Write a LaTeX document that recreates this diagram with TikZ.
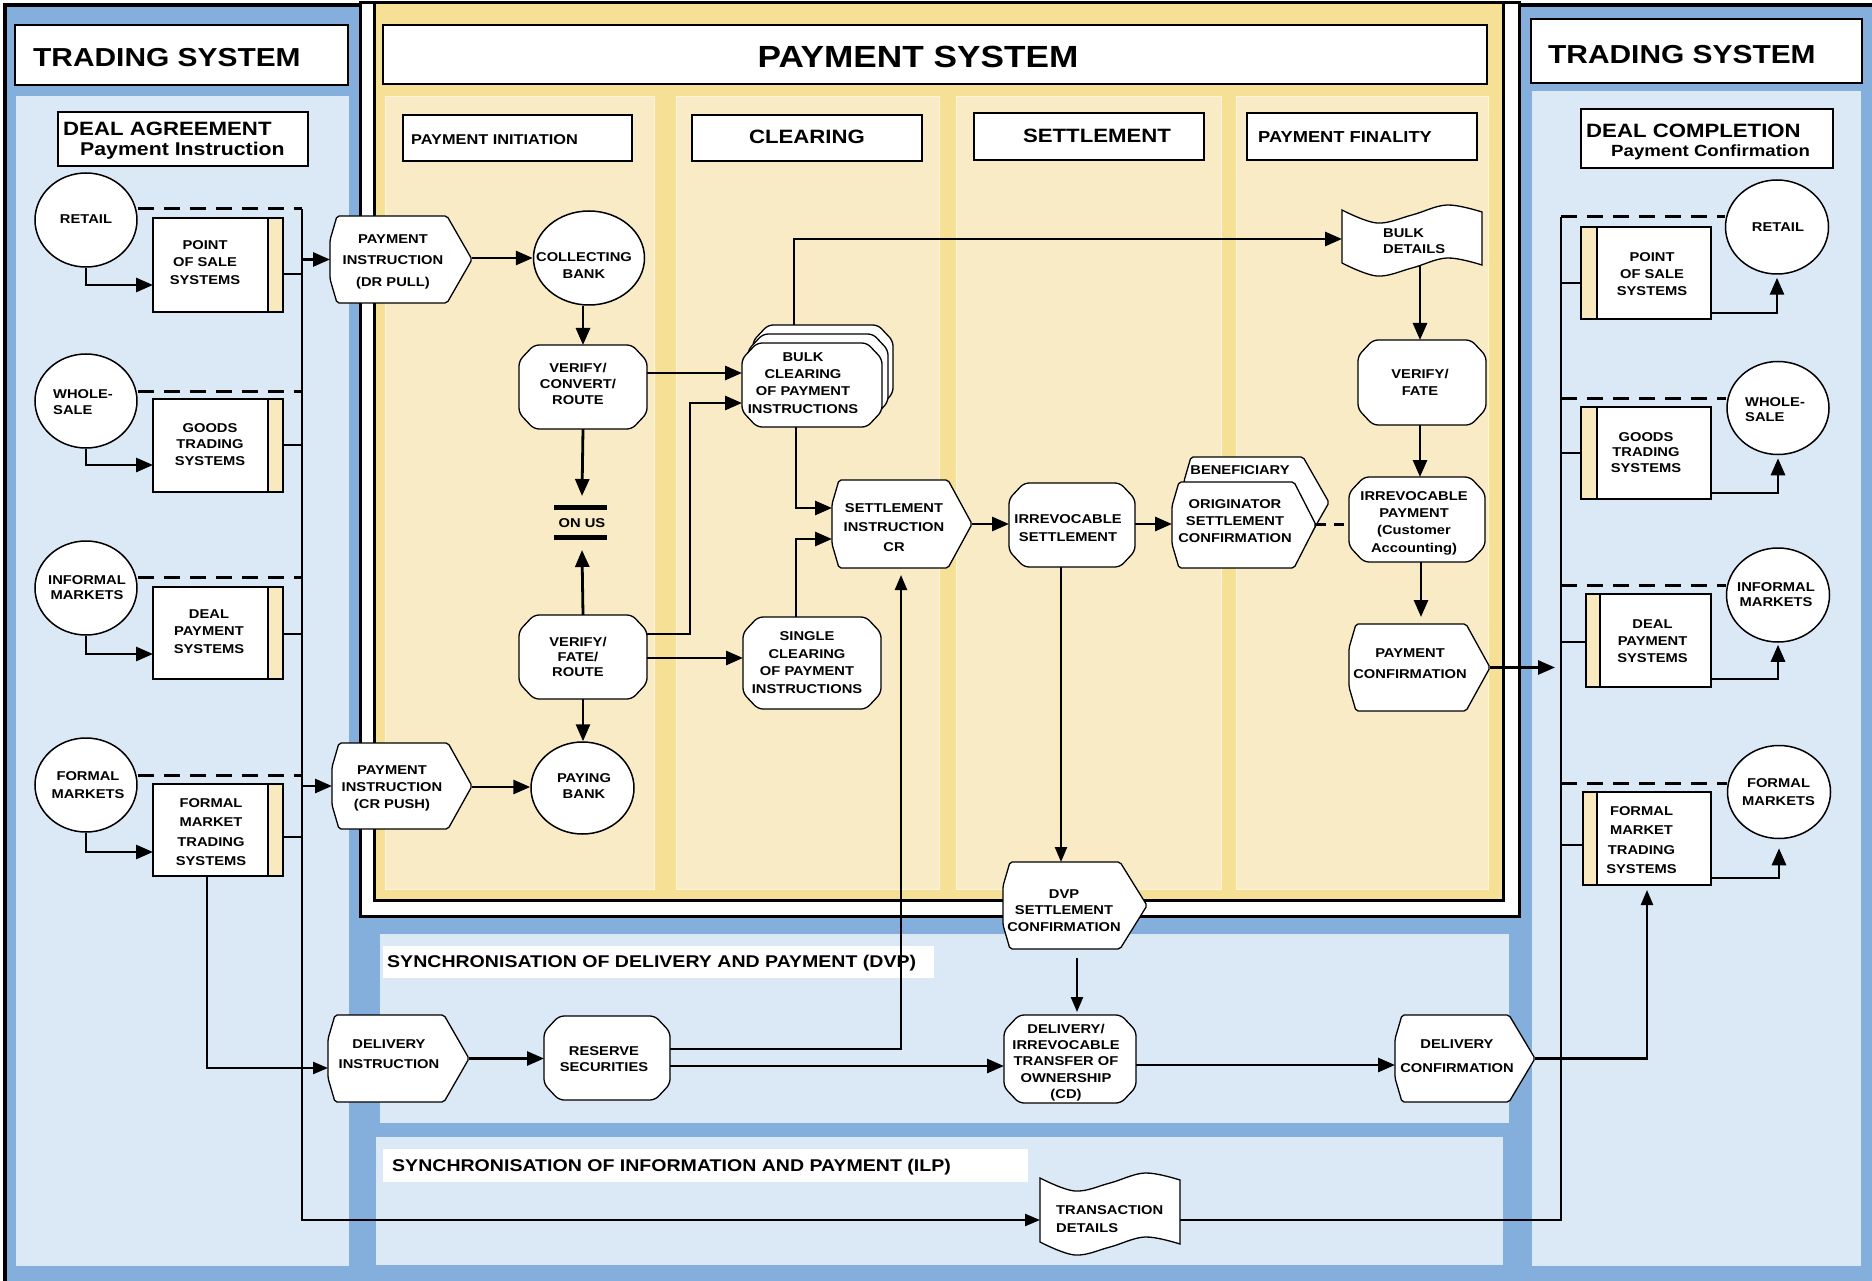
\documentclass[tikz,border=0pt]{standalone}
\usepackage{fontspec}
\usetikzlibrary{arrows.meta,shapes.geometric}
\newfontfamily\nf[FakeStretch=1.15]{Liberation Sans}
\newcommand\fz[2]{\nf\bfseries\fontsize{#1}{#2}\selectfont}
\definecolor{frameblue}{RGB}{132,175,220}
\definecolor{paleblue}{RGB}{219,232,246}
\definecolor{frameyel}{RGB}{245,224,150}
\definecolor{laneyel}{RGB}{249,235,197}
\definecolor{laneedge}{RGB}{253,244,220}
\definecolor{stripe}{RGB}{248,233,190}
\pgfdeclarelayer{bg}\pgfdeclarelayer{conn}\pgfsetlayers{bg,conn,main}

% chamfered box with rounded corners: name, x1, y1, x2, y2
\newcommand\mkoct[5]{%
  \filldraw[shp, rounded corners=5pt] ({#2+15},#3) -- ({#4-15},#3) -- (#4,{#3+16}) -- (#4,{#5-16}) -- ({#4-15},#5) -- ({#2+15},#5) -- (#2,{#5-16}) -- (#2,{#3+16}) -- cycle;
  \node[hold, minimum width={#4-#2}, minimum height={#5-#3}] (#1) at ({(#2+#4)/2},{(#3+#5)/2}) {};}
% display shape pointing right: name, x1, y1, x2 (tip), y2, tip depth
\newcommand\mkhex[6]{%
  \filldraw[shp, rounded corners=2pt] ({#2+7},#3) -- ({#4-#6},#3) -- (#4,{(#3+#5)/2}) -- ({#4-#6},#5) -- ({#2+7},#5) -- (#2,{#5-24}) -- (#2,{#3+24}) -- cycle;
  \node[hold, minimum width={#4-#2}, minimum height={#5-#3}] (#1) at ({(#2+#4)/2},{(#3+#5)/2}) {};}
% wavy document: name, x1, x2, top-left y, height
\newcommand\mkwave[5]{%
  \filldraw[shp] plot[smooth, tension=0.6] coordinates {(#2,#4) ({#2+0.25*(#3-#2)},{#4+13}) ({#2+0.5*(#3-#2)},{#4+5}) ({#2+0.75*(#3-#2)},{#4-5}) (#3,{#4+2})}
    -- plot[smooth, tension=0.6] coordinates {(#3,{#4+2+#5}) ({#2+0.75*(#3-#2)},{#4-5+#5}) ({#2+0.5*(#3-#2)},{#4+5+#5}) ({#2+0.25*(#3-#2)},{#4+13+#5}) (#2,{#4+#5})} -- cycle;
  \node[hold, minimum width={#3-#2}, minimum height={#5}] (#1) at ({(#2+#3)/2},{#4+#5/2}) {};}
% system box with side bar on the right: name, x1, y1, x2, y2
\newcommand\mkstripel[5]{%
  \filldraw[boxline, fill=white] (#2,#3) rectangle (#4,#5);
  \filldraw[boxline, fill=stripe] (#4,#3) rectangle ({#4+15},#5);
  \node[hold, minimum width={#4+15-#2}, minimum height={#5-#3}] (#1) at ({(#2+#4+15)/2},{(#3+#5)/2}) {};}
% system box with side bar on the left: name, xs, x1, y1, x2, y2
\newcommand\mkstriper[6]{%
  \filldraw[boxline, fill=stripe] (#2,#4) rectangle (#3,#6);
  \filldraw[boxline, fill=white] (#3,#4) rectangle (#5,#6);
  \node[hold, minimum width={#5-#2}, minimum height={#6-#4}] (#1) at ({(#2+#5)/2},{(#4+#6)/2}) {};}

\begin{document}
\begin{tikzpicture}[x=1pt, y=-1pt,
  hold/.style={rectangle, inner sep=0pt, outer sep=0pt},
  shp/.style={fill=white, draw=black, line width=1.3pt},
  ell/.style={ellipse, fill=white, draw=black, line width=1.5pt, inner sep=0pt},
  boxline/.style={draw=black, line width=2.8pt},
  tb/.style={align=center, inner sep=0pt, font={\fz{12.8}{#1}}},
  tbl/.style={align=left, inner sep=0pt, anchor=west, font={\fz{12.8}{#1}}},
  lbl/.style={inner sep=0pt, font={\fz{#1}{#1}}},
  arr/.style={line width=2.8pt, -{Triangle[length=17pt,width=14pt]}},
  arrt/.style={line width=2.3pt, -{Triangle[length=15pt,width=12pt]}},
  ln/.style={line width=2.6pt},
  lnt/.style={line width=2.3pt},
  dsh/.style={line width=3pt, dash pattern=on 16pt off 10pt},
  titlebox/.style={fill=white, draw=black, line width=2.5pt},
  hdr/.style={fill=white, draw=black, line width=2pt},
  lane/.style={fill=laneyel, draw=laneedge, line width=1pt},
]
\useasboundingbox (0,0) rectangle (1872,1281);

\begin{pgfonlayer}{bg}
  % blue frame of the trading systems and synchronisation bands
  \fill[frameblue] (5,5) rectangle (1872,1281);
  \draw[line width=3.5pt] (5,1281) -- (5,5) -- (1872,5);
  \fill[paleblue] (16,96) rectangle (349,1266);
  \fill[paleblue] (1532,91) rectangle (1861,1266);
  \fill[paleblue] (380,934) rectangle (1509,1123);
  \fill[paleblue] (376,1137) rectangle (1503,1265);
  % payment system frame and its four lanes
  \filldraw[fill=white, line width=3pt] (360,3) rectangle (1519,916);
  \filldraw[fill=frameyel, line width=3pt] (374,3) rectangle (1503,900);
  \filldraw[lane] (385,97) rectangle (654,889);
  \filldraw[lane] (676,97) rectangle (939,889);
  \filldraw[lane] (956,97) rectangle (1221,889);
  \filldraw[lane] (1236,97) rectangle (1488,889);
  % title and heading boxes
  \filldraw[titlebox] (15,25) rectangle (348,85);
  \filldraw[titlebox] (1531,19) rectangle (1862,83);
  \filldraw[titlebox] (383,25) rectangle (1487,84);
  \filldraw[hdr] (58,112) rectangle (308,166);
  \filldraw[hdr] (1581,109) rectangle (1833,168);
  \filldraw[hdr] (403,115) rectangle (632,161);
  \filldraw[hdr] (692,115) rectangle (922,161);
  \filldraw[hdr] (974,113) rectangle (1204,160);
  \filldraw[hdr] (1247,113) rectangle (1477,160);
  \fill[white] (383,946) rectangle (934,978);
  \fill[white] (383,1149) rectangle (1028,1182);
\end{pgfonlayer}

% headings
\node[lbl=26, anchor=base west] (tsl) at (33,67) {TRADING SYSTEM};
\node[lbl=26, anchor=base west] (tsr) at (1548,64) {TRADING SYSTEM};
\node[lbl=30.6, anchor=base] (pst) at (918,68) {PAYMENT SYSTEM};
\node[lbl=19.3, anchor=base west] (dagr) at (63,136) {DEAL AGREEMENT};
\node[lbl=18.5, anchor=base west] (dagr2) at (80,156) {Payment Instruction};
\node[lbl=19.3, anchor=base west] (dcom) at (1586,138) {DEAL COMPLETION};
\node[lbl=16.2, anchor=base west] (dcom2) at (1611,157) {Payment Confirmation};
\node[lbl=14.2, anchor=base west] (h1) at (411,145) {PAYMENT INITIATION};
\node[lbl=19.3, anchor=base] (h2) at (807,144) {CLEARING};
\node[lbl=19.3, anchor=base] (h3) at (1097,143) {SETTLEMENT};
\node[lbl=15.9, anchor=base west] (h4) at (1258,143) {PAYMENT FINALITY};
\node[lbl=17, anchor=base west] (sdvp) at (387,967) {SYNCHRONISATION OF DELIVERY AND PAYMENT (DVP)};
\node[lbl=17, anchor=base west] (silp) at (392,1171) {SYNCHRONISATION OF INFORMATION AND PAYMENT (ILP)};

% left trading system
\node[ell, minimum width=102, minimum height=94] (retL) at (86,220) {};
\node[ell, minimum width=102, minimum height=94] (whoL) at (86,401) {};
\node[ell, minimum width=102, minimum height=94] (infL) at (86,588) {};
\node[ell, minimum width=102, minimum height=94] (forL) at (86,785) {};
\node[tb=17] (retLt) at (86,219) {RETAIL};
\node[tbl=16] (whoLt) at (53,402) {WHOLE-\\SALE};
\node[tb=15] (infLt) at (87,588) {INFORMAL\\MARKETS};
\node[tb=18] (forLt) at (88,785) {FORMAL\\MARKETS};
\mkstripel{posL}{153}{218}{268}{312}
\mkstripel{gtsL}{153}{399}{268}{492}
\mkstripel{dpsL}{153}{587}{268}{679}
\mkstripel{fmtsL}{153}{784}{268}{876}
\node[tb=17.5] (posLt) at (205,262.5) {POINT\\OF SALE\\SYSTEMS};
\node[tb=16.5] (gtsLt) at (210,444.5) {GOODS\\TRADING\\SYSTEMS};
\node[tb=17.5] (dpsLt) at (209,631.5) {DEAL\\PAYMENT\\SYSTEMS};
\node[tb=19.3] (fmtsLt) at (211,832) {FORMAL\\MARKET\\TRADING\\SYSTEMS};

% payment initiation
\mkhex{drp}{330}{216}{472}{303}{25}
\mkhex{crp}{332}{743}{472}{829}{24}
\node[ell, minimum width=111, minimum height=94] (cb) at (589,258) {};
\node[ell, minimum width=103, minimum height=92] (pb) at (582.5,788) {};
\mkoct{vcr}{519}{345}{647}{429}
\mkoct{vfr}{519}{615}{647}{699}
\node[tb=21.5] (drpt) at (393,261.5) {PAYMENT\\INSTRUCTION\\(DR PULL)};
\node[tb=17] (crpt) at (392,788) {PAYMENT\\INSTRUCTION\\(CR PUSH)};
\node[tb=17] (cbt) at (584,265.5) {COLLECTING\\BANK};
\node[tb=16] (pbt) at (584,786) {PAYING\\BANK};
\node[tb=16] (vcrt) at (578,384) {VERIFY/\\CONVERT/\\ROUTE};
\node[tb=15] (vfrt) at (578,657) {VERIFY/\\FATE/\\ROUTE};
\node[hold, minimum width=53, minimum height=54, font={\fz{12.8}{15}}] (onus) at (582,523) {ON US};
\draw[line width=5pt] (554,507) -- (607,507);
\draw[line width=5pt] (554,537) -- (607,537);

% clearing
\mkoct{bulk3}{753}{325}{893}{409}
\mkoct{bulk2}{748}{334}{888}{418}
\mkoct{bulk}{742}{343}{882}{427}
\mkoct{sgl}{743}{617}{881}{709}
\mkhex{si}{832}{480}{972}{568}{24}
\node[tb=17.3] (bulkt) at (803,383) {BULK\\CLEARING\\OF PAYMENT\\INSTRUCTIONS};
\node[tb=17.7] (sglt) at (807,662.5) {SINGLE\\CLEARING\\OF PAYMENT\\INSTRUCTIONS};
\node[tb=19.5] (sit) at (894,527.5) {SETTLEMENT\\INSTRUCTION\\CR};

% settlement
\mkoct{is}{1009}{483}{1135}{567}
\mkhex{ben}{1184}{457}{1329}{548}{26}
\mkhex{osc}{1172}{482}{1316}{568}{22}
\node[tb=18] (ist) at (1068,528) {IRREVOCABLE\\SETTLEMENT};
\node[tb=15] (bent) at (1240,470) {BENEFICIARY};
\node[tb=17] (osct) at (1235,521) {ORIGINATOR\\SETTLEMENT\\CONFIRMATION};

% payment finality
\mkwave{bd}{1342}{1482}{210}{53}
\mkoct{vf}{1358}{340}{1486}{425}
\mkoct{ip}{1349}{477}{1485}{562}
\mkhex{pc}{1349}{624}{1490}{711}{24}
\node[tbl=16] (bdt) at (1383,241) {BULK\\DETAILS};
\node[tb=17] (vft) at (1420,382.5) {VERIFY/\\FATE};
\node[tb=17.3] (ipt) at (1414,523) {IRREVOCABLE\\PAYMENT\\(Customer\\Accounting)};
\node[tb=21] (pct) at (1410,663.5) {PAYMENT\\CONFIRMATION};

% delivery versus payment
\mkhex{dvp}{1003}{862}{1147}{949}{27}
\mkhex{di}{328}{1015}{469}{1102}{25}
\mkoct{rs}{544}{1016}{670}{1100}
\mkoct{cd}{1004}{1015}{1136}{1103}
\mkhex{dc}{1395}{1015}{1535}{1102}{26}
\node[tb=16.5] (dvpt) at (1064,910.5) {DVP\\SETTLEMENT\\CONFIRMATION};
\node[tb=20] (dit) at (389,1054) {DELIVERY\\INSTRUCTION};
\node[tb=16] (rst) at (604,1059) {RESERVE\\SECURITIES};
\node[tb=16.25] (cdt) at (1066,1062.5) {DELIVERY/\\IRREVOCABLE\\TRANSFER OF\\OWNERSHIP\\(CD)};
\node[tb=24] (dct) at (1457,1056) {DELIVERY\\CONFIRMATION};

% information and payment
\mkwave{td}{1040}{1180}{1178}{64}
\node[tbl=18] (tdt) at (1056,1219) {TRANSACTION\\DETAILS};

% right trading system
\node[ell, minimum width=103, minimum height=94] (retR) at (1777,227) {};
\node[ell, minimum width=102, minimum height=93] (whoR) at (1778,408) {};
\node[ell, minimum width=103, minimum height=94] (infR) at (1778,595) {};
\node[ell, minimum width=103, minimum height=93] (forR) at (1779,792) {};
\node[tb=17] (retRt) at (1778,227.5) {RETAIL};
\node[tbl=15.5] (whoRt) at (1745,409.5) {WHOLE-\\SALE};
\node[tb=15] (infRt) at (1776,594.5) {INFORMAL\\MARKETS};
\node[tb=18] (forRt) at (1778.5,792) {FORMAL\\MARKETS};
\mkstriper{posR}{1581}{1597}{227}{1711}{319}
\mkstriper{gtsR}{1581}{1597}{407}{1711}{499}
\mkstriper{dpsR}{1586}{1600}{594}{1711}{687}
\mkstriper{fmtsR}{1583}{1597}{792}{1711}{885}
\node[tb=17] (posRt) at (1652,274) {POINT\\OF SALE\\SYSTEMS};
\node[tb=15.5] (gtsRt) at (1646,452.5) {GOODS\\TRADING\\SYSTEMS};
\node[tb=17] (dpsRt) at (1652.5,641) {DEAL\\PAYMENT\\SYSTEMS};
\node[tb=19.3] (fmtsRt) at (1641.5,840) {FORMAL\\MARKET\\TRADING\\SYSTEMS};

\coordinate (lbt) at (302,209);
\coordinate (lbb) at (302,1220);
\coordinate (rbt) at (1561,217);
\coordinate (rbb) at (1561,1220);

\begin{pgfonlayer}{conn}
  % left trading system links
  \draw[dsh] (retL.east |- lbt) -- (lbt);
  \draw[dsh] (whoL.east |- 0,391) -- (lbt |- 0,391);
  \draw[dsh] (infL.east |- 0,577) -- (lbt |- 0,577);
  \draw[dsh] (forL.east |- 0,775) -- (lbt |- 0,775);
  \draw[arr] (retL.south) |- (posL.west |- 0,285);
  \draw[arr] (whoL.south) |- (gtsL.west |- 0,465);
  \draw[arr] (infL.south) |- (dpsL.west |- 0,654);
  \draw[arr] (forL.south) |- (fmtsL.west |- 0,852);
  \draw[ln] (posL.east |- 0,274) -- (lbt |- 0,274);
  \draw[ln] (gtsL.east |- 0,445) -- (lbt |- 0,445);
  \draw[ln] (dpsL.east |- 0,634) -- (lbt |- 0,634);
  \draw[ln] (fmtsL.east |- 0,837) -- (lbt |- 0,837);
  \draw[arrt] (lbt) -- (lbb) -- (td.west |- lbb);
  \draw[arr] (lbt |- drp.west) -- (drp.west);
  \draw[arr] (lbt |- crp.west) -- (crp.west);
  \draw[arrt] (fmtsL.south -| 207,0) |- (di.west |- 0,1068);
  % payment initiation
  \draw[arr] (drp.east |- 0,258) -- (cb.west);
  \draw[arr] (cb.south -| vcr.north) -- (vcr.north);
  \draw[arr] (vcr.south) -- (onus.north);
  \draw[arr] (vfr.north) -- (onus.south);
  \draw[arr] (vfr.south) -- (vfr.south |- pb.north);
  \draw[arr] (crp.east |- 0,787) -- (pb.west |- 0,787);
  % clearing
  \draw[arr] (vcr.east |- 0,373) -- (bulk.west |- 0,373);
  \draw[arr] (vfr.east |- 0,634) -- (690,634) -- (690,403) -- (bulk.west |- 0,403);
  \draw[arr] (vfr.east |- 0,658) -- (sgl.west |- 0,658);
  \draw[arr] (bulk.south -| 796,0) |- (si.west |- 0,508);
  \draw[arr] (sgl.north -| 796,0) |- (si.west |- 0,539);
  \draw[arr] (bulk.center -| 794,0) |- (bd.west |- 0,239);
  % settlement and finality
  \draw[arr] (si.east |- 0,524) -- (is.west |- 0,524);
  \draw[arr] (is.east |- 0,524) -- (osc.west |- 0,524);
  \draw[dsh, dash pattern=on 10pt off 8pt] (osc.east |- 0,524) -- (ip.west |- 0,524);
  \draw[arr] (bd.center -| 1420,0) -- (vf.north -| 1420,0);
  \draw[arr] (vf.south -| 1420,0) -- (ip.north -| 1420,0);
  \draw[arr, shorten >=7pt] (ip.south -| 1421,0) -- (pc.north -| 1421,0);
  \draw[arr, shorten >=6pt] (pc.east) -- (rbt |- pc.east);
  \draw[arrt] (is.south -| 1061,0) -- (dvp.north -| 1061,0);
  % delivery versus payment
  \draw[arrt, shorten <=9pt, shorten >=3pt] (dvp.south -| 1077,0) -- (cd.north -| 1077,0);
  \draw[arr] (di.east) -- (di.east -| rs.west);
  \draw[arr] (rs.east |- 0,1066) -- (cd.west |- 0,1066);
  \draw[arrt, shorten >=7pt] (rs.east |- 0,1049) -| (si.south -| 901,0);
  \draw[arr] (cd.east |- 0,1065) -- (dc.west |- 0,1065);
  \draw[arrt, shorten >=5pt] (dc.east) -| (fmtsR.south -| 1647,0);
  \draw[lnt] (td.east |- rbb) -- (rbb) -- (rbt);
  % right trading system links
  \draw[dsh] (rbt) -- (retR.west |- rbt);
  \draw[dsh] (rbt |- 0,398) -- (whoR.west |- 0,398);
  \draw[dsh] (rbt |- 0,585) -- (infR.west |- 0,585);
  \draw[dsh] (rbt |- 0,783) -- (forR.west |- 0,783);
  \draw[ln] (rbt |- 0,283) -- (posR.west |- 0,283);
  \draw[ln] (rbt |- 0,453) -- (gtsR.west |- 0,453);
  \draw[ln] (rbt |- 0,642) -- (dpsR.west |- 0,642);
  \draw[ln] (rbt |- 0,845) -- (fmtsR.west |- 0,845);
  \draw[arr, shorten >=3pt] (posR.east |- 0,313) -| (retR.south);
  \draw[arr, shorten >=3pt] (gtsR.east |- 0,493) -| (whoR.south);
  \draw[arr, shorten >=2pt] (dpsR.east |- 0,679) -| (infR.south);
  \draw[arr, shorten >=9pt] (fmtsR.east |- 0,878) -| (forR.south);
\end{pgfonlayer}
\end{tikzpicture}
\end{document}
